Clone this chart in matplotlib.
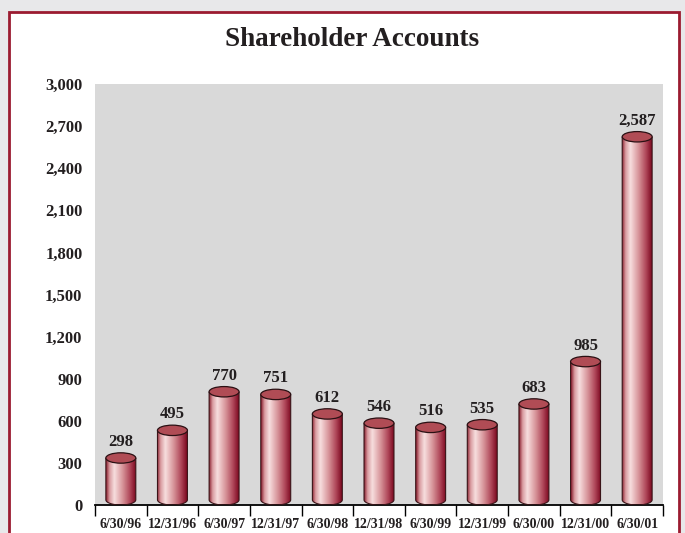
import numpy as np
import matplotlib
matplotlib.use("Agg")
import matplotlib.pyplot as plt
from matplotlib.colors import LinearSegmentedColormap
from matplotlib.patches import Ellipse, PathPatch, Rectangle
from matplotlib.path import Path

# data
dates = ['6/30/96', '12/31/96', '6/30/97', '12/31/97', '6/30/98', '12/31/98',
         '6/30/99', '12/31/99', '6/30/00', '12/31/00', '6/30/01']
accounts = [298, 495, 770, 751, 612, 546, 516, 535, 683, 985, 2587]
y_ticks = list(range(0, 3001, 300))

serif = ['Liberation Serif', 'DejaVu Serif']
text_color = '#231f20'

fig = plt.figure(figsize=(6.85, 5.33), dpi=100, facecolor='#e8e8ea')

# white panel with the dark red frame
fig.patches.append(Rectangle((9 / 685, -0.05), 670 / 685, 1 - 12 / 533 + 0.05,
                             transform=fig.transFigure, facecolor='white',
                             edgecolor='#9b1b30', linewidth=2, zorder=-5))

ax = fig.add_axes([95 / 685, 1 - 505 / 533, 568 / 685, 421 / 533])
ax.set_zorder(2)
ax.set_facecolor('#d9d9d9')

# shading across each cylinder
cyl_cmap = LinearSegmentedColormap.from_list('cyl', [
    (0.0, '#8a1e2e'), (0.12, '#d99ca0'), (0.28, '#f7dede'),
    (0.55, '#d8969b'), (0.8, '#b0485a'), (1.0, '#7c0820')])
grad = np.linspace(0, 1, 256).reshape(1, -1)

x = np.arange(len(dates))
bars = ax.bar(x, accounts, width=0.58, color='none', edgecolor='none')

cap_h = 74  # ellipse height in data units, base sits on the axis
for bar in bars:
    x0, w, h = bar.get_x(), bar.get_width(), bar.get_height()
    cx = x0 + w / 2
    top = h + cap_h / 2
    t = np.linspace(np.pi, 2 * np.pi, 40)
    bottom = np.column_stack([cx + w / 2 * np.cos(t), cap_h / 2 + cap_h / 2 * np.sin(t)])
    body = Path(np.vstack([[x0, top], bottom, [x0 + w, top], [x0, top]]))
    im = ax.imshow(grad, extent=[x0, x0 + w, 0, top], aspect='auto', cmap=cyl_cmap,
                   zorder=2, interpolation='bilinear')
    clip = PathPatch(body, transform=ax.transData, facecolor='none', edgecolor='none')
    ax.add_patch(clip)
    im.set_clip_path(clip)
    outline = Path(np.vstack([[x0, top], bottom, [x0 + w, top]]))
    ax.add_patch(PathPatch(outline, facecolor='none', edgecolor='#3a1418',
                           linewidth=0.8, zorder=3))
    ax.add_patch(Ellipse((cx, top), w, cap_h, facecolor='#b04c55',
                         edgecolor='#2a1013', linewidth=0.9, zorder=4))
    ax.annotate(f'{h:,.0f}', (cx, top + cap_h / 2), xytext=(0, 2),
                textcoords='offset points', ha='center', va='bottom', fontsize=12,
                fontweight='bold', family=serif, color=text_color, zorder=5)

ax.set_xlim(-0.5, len(dates) - 0.5)
ax.set_ylim(0, 3000)

ax.set_yticks(y_ticks)
ax.set_yticklabels([f'{v:,}' for v in y_ticks])
ax.tick_params(axis='y', length=0, pad=9)

ax.set_xticks(x)
ax.set_xticklabels(dates)
ax.set_xticks(np.arange(-0.5, len(dates)), minor=True)
ax.tick_params(axis='x', which='major', length=0, pad=9)
ax.tick_params(axis='x', which='minor', length=8, width=1, color='black', direction='out')

for lab in ax.get_xticklabels() + ax.get_yticklabels():
    lab.set_family(serif)
    lab.set_fontweight('bold')
    lab.set_color(text_color)
for lab in ax.get_xticklabels():
    lab.set_fontsize(10)
for lab in ax.get_yticklabels():
    lab.set_fontsize(12)

for side in ['top', 'right', 'left']:
    ax.spines[side].set_visible(False)
ax.spines['bottom'].set_linewidth(1.3)
ax.spines['bottom'].set_color('black')

fig.text(352 / 685, 1 - 39 / 533, 'Shareholder Accounts', ha='center', va='center',
         fontsize=19.5, fontweight='bold', family=serif, color=text_color)

fig.savefig('out.png', dpi=100, facecolor=fig.get_facecolor())
